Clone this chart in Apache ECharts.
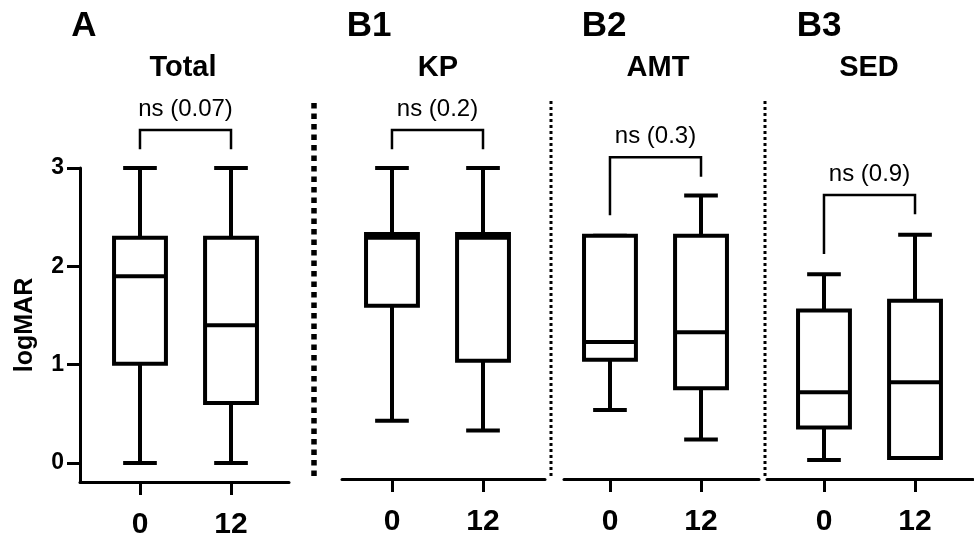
<!DOCTYPE html>
<html>
<head>
<meta charset="utf-8">
<script src="https://cdn.jsdelivr.net/npm/echarts@6/dist/echarts.min.js"></script>
<style>
  html, body { margin: 0; padding: 0; background: #fff; }
  #chart { width: 974px; height: 537px; }
</style>
</head>
<body>
<div id="chart"></div>
<script>
// data
const categories = ['0', '12'];
const yTicks = [0, 1, 2, 3];
// each box: [min, Q1, median, Q3, max]
const totalBoxes = [[0.00, 1.01, 1.90, 2.29, 3.00], [0.00, 0.61, 1.40, 2.29, 3.00]];
const kpBoxes = [[0.43, 1.60, 2.29, 2.33, 3.00], [0.33, 1.04, 2.29, 2.33, 3.00]];
const amtBoxes = [[0.54, 1.05, 1.23, 2.31, 2.31], [0.24, 0.76, 1.33, 2.31, 2.72]];
const sedBoxes = [[0.03, 0.36, 0.72, 1.55, 1.92], [0.05, 0.05, 0.82, 1.65, 2.32]];
const pLabels = ['ns (0.07)', 'ns (0.2)', 'ns (0.3)', 'ns (0.9)'];

const FONT = 'Liberation Sans, Arial, sans-serif';

// layout of the four panels (pixels and bracket heights)
const Y0 = 463, Y3 = 168;
const pxPerUnit = (Y0 - Y3) / 3;
const panels = [
  { head: 'A', title: 'Total', boxes: totalBoxes, p: pLabels[0], left: 80, width: 209, bottom: 482,
    xMin: -0.659, xMax: 1.637, showY: true, bracket: [3.19, 3.19, 3.387], headX: 84, titleX: 183 },
  { head: 'B1', title: 'KP', boxes: kpBoxes, p: pLabels[1], left: 342, width: 203, bottom: 479,
    xMin: -0.549, xMax: 1.681, showY: false, bracket: [3.19, 3.19, 3.387], headX: 369, titleX: 438 },
  { head: 'B2', title: 'AMT', boxes: amtBoxes, p: pLabels[2], left: 564, width: 195, bottom: 479,
    xMin: -0.505, xMax: 1.637, showY: false, bracket: [2.52, 2.91, 3.11], headX: 604, titleX: 658 },
  { head: 'B3', title: 'SED', boxes: sedBoxes, p: pLabels[3], left: 767, width: 206, bottom: 479,
    xMin: -0.626, xMax: 1.637, showY: false, bracket: [2.125, 2.53, 2.725], headX: 819, titleX: 869 }
];

function renderBox(params, api) {
  const x = api.value(0);
  const lo = api.coord([x, api.value(1)]);
  const q1 = api.coord([x, api.value(2)]);
  const med = api.coord([x, api.value(3)]);
  const q3 = api.coord([x, api.value(4)]);
  const hi = api.coord([x, api.value(5)]);
  const band = api.size([1, 0])[0];
  const bw = band * 0.57, cw = band * 0.37;
  const cx = lo[0];
  const st = { stroke: '#000', lineWidth: 4 };
  const line = (x1, y1, x2, y2) => ({ type: 'line', shape: { x1, y1, x2, y2 }, style: st });
  return {
    type: 'group',
    children: [
      line(cx, hi[1], cx, q3[1]),
      line(cx, lo[1], cx, q1[1]),
      line(cx - cw / 2, hi[1], cx + cw / 2, hi[1]),
      line(cx - cw / 2, lo[1], cx + cw / 2, lo[1]),
      { type: 'rect', shape: { x: cx - bw / 2, y: q3[1], width: bw, height: q1[1] - q3[1] },
        style: { stroke: '#000', lineWidth: 4, fill: '#fff' } },
      line(cx - bw / 2, med[1], cx + bw / 2, med[1])
    ]
  };
}

function bracketRenderer(label) {
  return function (params, api) {
    const a = api.coord([api.value(0), api.value(2)]);
    const b = api.coord([api.value(1), api.value(3)]);
    const ta = api.coord([api.value(0), api.value(4)]);
    const tb = api.coord([api.value(1), api.value(4)]);
    return {
      type: 'group',
      children: [
        { type: 'polyline', shape: { points: [a, ta, tb, b] },
          style: { stroke: '#000', lineWidth: 2.5, fill: null } },
        { type: 'text', x: (ta[0] + tb[0]) / 2, y: ta[1] - 21,
          style: { text: label, font: '24px ' + FONT, fill: '#000', align: 'center', verticalAlign: 'middle' } }
      ]
    };
  };
}

const grid = [], xAxis = [], yAxis = [], series = [], graphic = [];
panels.forEach((p, i) => {
  grid.push({ left: p.left, top: Y3, width: p.width, height: p.bottom - Y3,
    containLabel: false, outerBoundsMode: 'none' });
  xAxis.push({
    type: 'value', gridIndex: i, min: p.xMin, max: p.xMax,
    axisLine: { show: true, onZero: false, lineStyle: { color: '#000', width: 3 } },
    axisTick: { show: true, length: 13, lineStyle: { color: '#000', width: 3 }, customValues: [0, 1] },
    axisLabel: { show: true, customValues: [0, 1], margin: 28, formatter: v => categories[Math.round(v)],
      color: '#000', fontFamily: FONT, fontWeight: 'bold', fontSize: 30 },
    splitLine: { show: false }
  });
  yAxis.push({
    type: 'value', gridIndex: i, min: -(p.bottom - Y0) / pxPerUnit, max: 3, show: p.showY,
    name: p.showY ? 'logMAR' : '', nameLocation: 'middle', nameGap: 42,
    nameTextStyle: { color: '#000', fontFamily: FONT, fontWeight: 'bold', fontSize: 25 },
    axisLine: { show: true, onZero: false, lineStyle: { color: '#000', width: 3 } },
    axisTick: { show: true, length: 13, lineStyle: { color: '#000', width: 3 }, customValues: yTicks },
    axisLabel: { show: true, customValues: yTicks, margin: 16,
      color: '#000', fontFamily: FONT, fontWeight: 'bold', fontSize: 23 },
    splitLine: { show: false }
  });
  series.push({
    type: 'custom', xAxisIndex: i, yAxisIndex: i, clip: false,
    renderItem: renderBox,
    data: p.boxes.map((b, k) => [k].concat(b))
  });
  series.push({
    type: 'custom', xAxisIndex: i, yAxisIndex: i, clip: false,
    renderItem: bracketRenderer(p.p),
    data: [[0, 1].concat(p.bracket)]
  });
  graphic.push({ type: 'text', x: p.headX, y: 26,
    style: { text: p.head, font: 'bold 35px ' + FONT, fill: '#000', align: 'center', verticalAlign: 'middle' } });
  graphic.push({ type: 'text', x: p.titleX, y: 68,
    style: { text: p.title, font: 'bold 29px ' + FONT, fill: '#000', align: 'center', verticalAlign: 'middle' } });
});

// panel separators
graphic.push({ type: 'line', shape: { x1: 314, y1: 103, x2: 314, y2: 476 },
  style: { stroke: '#000', lineWidth: 5.5, lineDash: [5.5, 5] } });
[551, 765].forEach(x => graphic.push({ type: 'line', shape: { x1: x, y1: 101, x2: x, y2: 479 },
  style: { stroke: '#000', lineWidth: 3, lineDash: [3, 3] } }));

const chart = echarts.init(document.getElementById('chart'));
chart.setOption({
  animation: false,
  backgroundColor: '#fff',
  grid, xAxis, yAxis, series, graphic
});
</script>
</body>
</html>
